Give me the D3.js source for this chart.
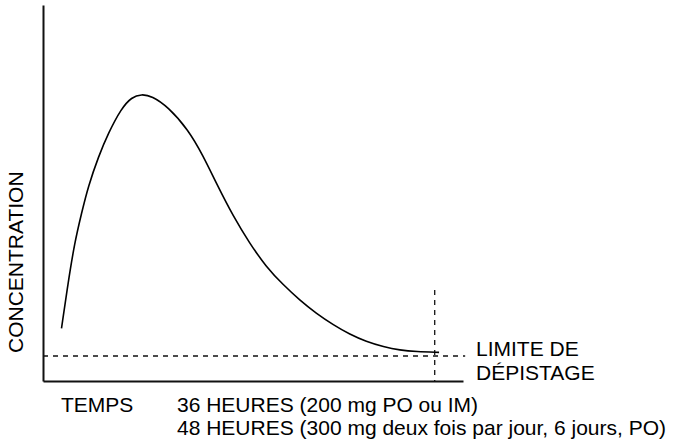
<!DOCTYPE html>
<html>
<head>
<meta charset="utf-8">
<script src="https://cdn.jsdelivr.net/npm/d3@7"></script>
<style>
  html, body { margin: 0; padding: 0; background: #fff; }
  svg { display: block; }
  text { font-family: "Liberation Sans", Arial, Helvetica, sans-serif; fill: #000; }
</style>
</head>
<body>
<svg id="chart" width="685" height="439"></svg>
<script>
// Time (hours) and relative concentration
const time = [1.7, 2.3, 2.9, 3.55, 4.15, 5.1, 6.0, 7.2, 8.15, 9.05, 10.0, 11.5, 13.35, 14.7, 15.96, 17.5, 19.0, 20.5, 22.1, 23.6, 25.1, 26.7, 28.2, 29.7, 31.3, 32.8, 34.3, 36.4];
const concentration = [14.0, 26.0, 36.7, 44.7, 51.7, 59.7, 65.9, 72.5, 75.5, 76.3, 75.8, 72.9, 66.8, 60.0, 52.4, 43.7, 36.6, 30.4, 25.5, 21.5, 18.0, 14.9, 12.4, 10.5, 9.1, 8.2, 7.8, 7.6];
const detectionLimit = 6.65;
const cutoffTime = 36;
const cutoffTop = 24.2;
const xDomain = [0, 38.6];
const yDomain = [0, 100];
const xLabel = "TEMPS";
const yLabel = "CONCENTRATION";
const limitLabel = ["LIMITE DE", "DÉPISTAGE"];
const timeNotes = ["36 HEURES (200 mg PO ou IM)", "48 HEURES (300 mg deux fois par jour, 6 jours, PO)"];

const svg = d3.select("#chart");
const x = d3.scaleLinear().domain(xDomain).range([43, 463]);
const y = d3.scaleLinear().domain(yDomain).range([381, 5]);

// axes (lines only, no ticks)
svg.append("g")
  .attr("transform", `translate(0,${y(0)})`)
  .call(d3.axisBottom(x).ticks(0).tickSizeOuter(0))
  .call(g => g.select(".domain").attr("stroke", "#111").attr("stroke-width", 2));
svg.append("g")
  .attr("transform", `translate(${x(0)},0)`)
  .call(d3.axisLeft(y).ticks(0).tickSizeOuter(0))
  .call(g => g.select(".domain").attr("stroke", "#111").attr("stroke-width", 2));

// detection limit (dashed horizontal)
svg.append("line")
  .attr("x1", x(0)).attr("x2", x(38.8))
  .attr("y1", y(detectionLimit)).attr("y2", y(detectionLimit))
  .attr("stroke", "#111").attr("stroke-width", 1.3)
  .attr("stroke-dasharray", "5,5");

// cutoff (dashed vertical)
svg.append("line")
  .attr("x1", x(cutoffTime)).attr("x2", x(cutoffTime))
  .attr("y1", y(cutoffTop)).attr("y2", y(0))
  .attr("stroke", "#111").attr("stroke-width", 1.3)
  .attr("stroke-dasharray", "5,5");

// curve
const data = time.map((t, i) => ({ t, c: concentration[i] }));
svg.append("path")
  .datum(data)
  .attr("fill", "none")
  .attr("stroke", "#000")
  .attr("stroke-width", 1.6)
  .attr("d", d3.line().x(d => x(d.t)).y(d => y(d.c)).curve(d3.curveBasis));

// labels
const fs = 21;
svg.append("text")
  .attr("transform", `translate(23,${353}) rotate(-90)`)
  .attr("font-size", fs)
  .text(yLabel);

svg.append("text").attr("x", 61).attr("y", 412).attr("font-size", fs).text(xLabel);
timeNotes.forEach((s, i) => {
  svg.append("text").attr("x", 177).attr("y", 412 + i * 23).attr("font-size", fs).text(s);
});
limitLabel.forEach((s, i) => {
  svg.append("text").attr("x", 476).attr("y", 356 + i * 24).attr("font-size", fs).text(s);
});
</script>
</body>
</html>
